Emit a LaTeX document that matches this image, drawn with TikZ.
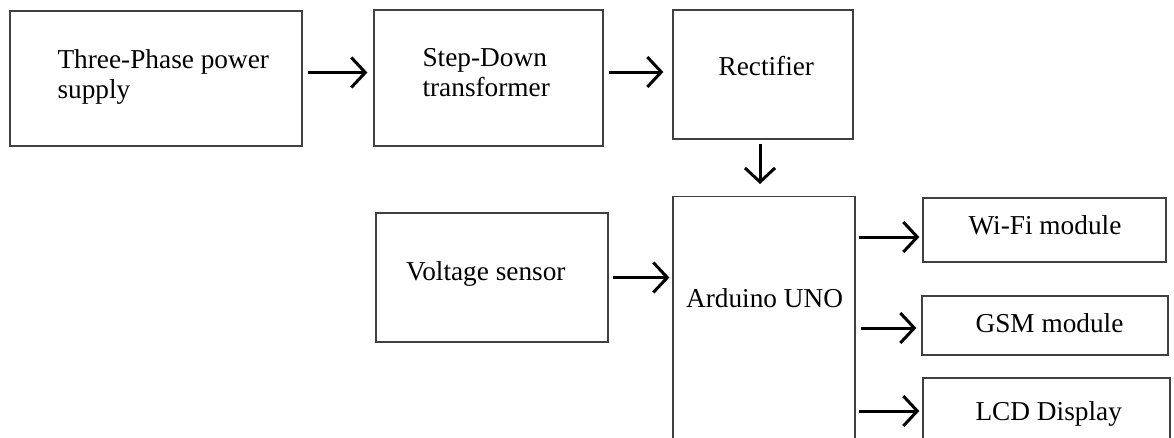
\documentclass[tikz,border=0pt]{standalone}
\usepackage{fontspec}
\setmainfont{Liberation Serif}
\usetikzlibrary{arrows.meta}

\tikzset{
  blocktext/.style={font=\fontsize{27.3pt}{30pt}\selectfont, inner sep=0pt, anchor=base west, align=left},
  block/.style={draw=black!75, line width=1.3pt, inner sep=0pt},
  flow/.style={black, line width=3pt, -{Straight Barb[length=14pt, width=30pt]}},
}

\begin{document}
\begin{tikzpicture}[x=1pt, y=-1pt]
\useasboundingbox (0,0) rectangle (1174,437);
\clip (0,0) rectangle (1174,437);

% top row
\node (supply) [block, minimum width=292pt, minimum height=135pt] at (156,78.5) {};
\node (stepdown) [block, minimum width=229pt, minimum height=136pt] at (488.5,78) {};
\node (rect) [block, minimum width=180pt, minimum height=129pt] at (763,74.5) {};

% controller
\node (sensor) [block, minimum width=232pt, minimum height=129pt] at (492,277.5) {};
\node (arduino) [block, minimum width=182pt, minimum height=270pt, anchor=north] at (764,196) {};

% outputs
\node (wifi) [block, minimum width=243pt, minimum height=64pt] at (1044.5,230) {};
\node (gsm) [block, minimum width=246pt, minimum height=59pt] at (1045,325.5) {};
\node (lcd) [block, minimum width=247pt, minimum height=62pt] at (1046.5,409) {};

% labels (base = last line)
\node (supplytext) [blocktext] at ([shift={(48,88)}]supply.north west) {Three-Phase power\\supply};
\node (steptext) [blocktext] at ([shift={(49,87)}]stepdown.north west) {Step-Down\\transformer};
\node (recttext) [blocktext] at ([shift={(46,66)}]rect.north west) {Rectifier};
\node (sensortext) [blocktext] at ([shift={(30.5,68.5)}]sensor.north west) {Voltage sensor};
\node (unotext) [blocktext] at ([shift={(13.5,111)}]arduino.north west) {Arduino UNO};
\node (wifitext) [blocktext] at ([shift={(46,37)}]wifi.north west) {Wi-Fi module};
\node (gsmtext) [blocktext] at ([shift={(54,37)}]gsm.north west) {GSM module};
\node (lcdtext) [blocktext] at ([shift={(53,43)}]lcd.north west) {LCD Display};

\coordinate (supplyout) at ([yshift=6pt]supply.east);
\coordinate (stepout) at ([yshift=6pt]stepdown.east);
\coordinate (rectout) at ([xshift=-3pt]rect.south);
\coordinate (wifiin) at ([yshift=-7pt]wifi.west);
\coordinate (gsmin) at ([yshift=-2.5pt]gsm.west);
\coordinate (lcdin) at ([yshift=-2pt]lcd.west);

\draw[flow, shorten <=5pt, shorten >=6pt] (supplyout) -- (supplyout -| stepdown.west);
\draw[flow, shorten <=5pt, shorten >=9pt] (stepout) -- (stepout -| rect.west);
\draw[flow, shorten <=4pt, shorten >=12pt] (rectout) -- (rectout |- arduino.north);
\draw[flow, shorten <=4pt, shorten >=3pt] (sensor.east) -- (sensor.east -| arduino.west);

\draw[flow, shorten <=3pt, shorten >=3pt] (arduino.east |- wifiin) -- (wifiin);
\draw[flow, shorten <=5pt, shorten >=5pt] (arduino.east |- gsmin) -- (gsmin);
\draw[flow, shorten <=3pt, shorten >=3pt] (arduino.east |- lcdin) -- (lcdin);
\end{tikzpicture}
\end{document}
